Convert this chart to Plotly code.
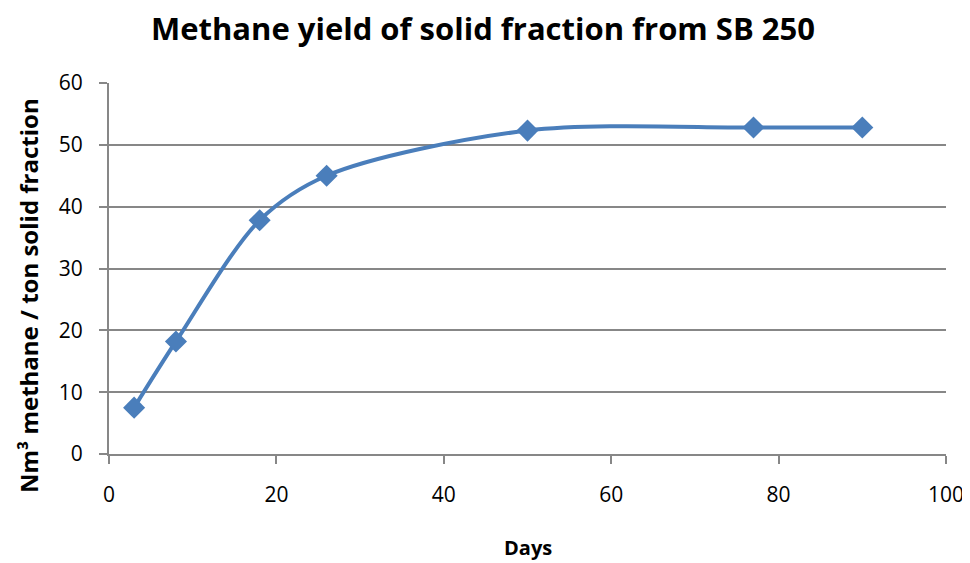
import plotly.graph_objects as go

days = [3, 8, 18, 26, 50, 77, 90]
methane_yield = [7.5, 18.2, 37.8, 45.0, 52.3, 52.8, 52.8]

x_ticks = [0, 20, 40, 60, 80, 100]
y_ticks = [0, 10, 20, 30, 40, 50, 60]

title_text = "Methane yield of solid fraction from SB 250"
x_title = "Days"
y_title = "Nm³ methane / ton solid fraction"

font_family = "Open Sans, Liberation Sans, sans-serif"
line_color = "#4A7EBB"
grid_color = "#878787"

W, H = 970, 555

fig = go.Figure()
fig.add_trace(go.Scatter(
    x=days, y=methane_yield, mode="lines+markers",
    line=dict(color=line_color, width=4, shape="spline", smoothing=0.9),
    marker=dict(symbol="diamond", size=17, color=line_color),
    showlegend=False,
))

fig.update_layout(
    width=W, height=H,
    paper_bgcolor="white", plot_bgcolor="white",
    margin=dict(l=101, r=32, t=75, b=109),
    font=dict(family=font_family, color="black", size=21),
    title=dict(text="<b>" + title_text + "</b>", xref="container", x=475 / W, xanchor="center",
               y=1 - 21 / H, yanchor="middle", font=dict(size=31, family=font_family)),
    annotations=[
        dict(text="<b>" + y_title + "</b>", xref="paper", yref="paper",
             x=-0.0955, y=0.426, xanchor="center", yanchor="middle",
             textangle=-90, showarrow=False, font=dict(size=24)),
        dict(text="<b>" + x_title + "</b>", xref="paper", yref="paper",
             x=0.5, y=-0.253, xanchor="center", yanchor="middle",
             showarrow=False, font=dict(size=20)),
    ],
)
fig.update_xaxes(
    range=[0, 100], tickvals=x_ticks, showgrid=False,
    showline=True, linecolor=grid_color, linewidth=2,
    ticks="outside", ticklen=8, tickcolor=grid_color, tickwidth=2,
    ticklabelstandoff=13, zeroline=False,
)
fig.update_yaxes(
    range=[0, 60], tickvals=y_ticks, showgrid=True, gridcolor=grid_color, gridwidth=2,
    showline=True, linecolor=grid_color, linewidth=2,
    ticks="outside", ticklen=8, tickcolor=grid_color, tickwidth=2,
    ticklabelstandoff=12, zeroline=False,
)

fig.write_html("out.html")
